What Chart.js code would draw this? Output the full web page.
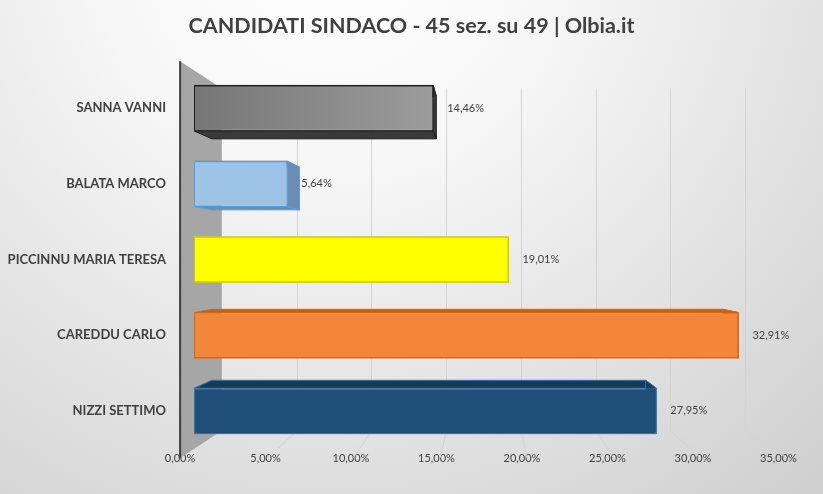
<!DOCTYPE html>
<html>
<head>
<meta charset="utf-8">
<title>Candidati sindaco - Olbia</title>
<script src="https://cdn.jsdelivr.net/npm/chart.js@4.4.1/dist/chart.umd.min.js"></script>
<style>
  html, body { margin: 0; padding: 0; background: #fff; }
</style>
</head>
<body>
<canvas id="votesChart" width="823" height="494"></canvas>
<script>
// values
const candidates = ['SANNA VANNI', 'BALATA MARCO', 'PICCINNU MARIA TERESA', 'CAREDDU CARLO', 'NIZZI SETTIMO'];
const votePercent = [14.46, 5.64, 19.01, 32.91, 27.95];
const tickValues = [0, 5, 10, 15, 20, 25, 30, 35];
const tickLabels = ['0,00%', '5,00%', '10,00%', '15,00%', '20,00%', '25,00%', '30,00%', '35,00%'];

// bar colours: front face, outline, depth faces
const faceColors = ['#8a8a8a', '#9dc3e6', '#ffff00', '#f38638', '#1f4e79'];
const edgeColors = ['#1c1c1c', '#5b9bd5', '#dcc21c', '#d0681c', '#3d72a8'];
const depthColors = ['#3a3a3a', '#6b8db1', '#c9c900', '#c0601b', '#15395a'];

const textColor = '#404040';
const fontFamily = 'Lato, "Open Sans", sans-serif';

// depth scale factors of the fake 3D box (1 = plane of the bar fronts)
const NEAR = 1.048, FAR = 0.904, BAR_BACK = 0.938;

function formatPercent(v) {
    return v.toFixed(2).replace('.', ',') + '%';
}

// Draws background, side wall, back grid and the depth faces of the bars
const perspective = {
    id: 'perspective',
    beforeDraw(chart) {
        const { ctx, width, height } = chart;
        const g = ctx.createRadialGradient(330, -60, 0, 330, -60, 900);
        g.addColorStop(0, '#ffffff');
        g.addColorStop(0.25, '#f7f7f7');
        g.addColorStop(1, '#c2c2c2');
        ctx.save();
        ctx.fillStyle = g;
        ctx.fillRect(0, 0, width, height);
        ctx.restore();
    },
    beforeDatasetsDraw(chart) {
        const { ctx, chartArea: a } = chart;
        const xs = chart.scales.x;
        const vx = (a.left + a.right) / 2;
        const vy = (a.top + a.bottom) / 2;
        const pt = (x, y, s) => [vx + s * (x - vx), vy + s * (y - vy)];

        ctx.save();

        // grid lines on back wall and floor
        ctx.strokeStyle = '#d4d4d4';
        ctx.lineWidth = 1;
        tickValues.forEach(v => {
            if (v === 0) return;
            const px = xs.getPixelForValue(v);
            const top = pt(px, a.top, FAR);
            const bot = pt(px, a.bottom, FAR);
            const front = pt(px, a.bottom, NEAR);
            const gx = Math.round(top[0]) + 0.5;
            ctx.beginPath();
            ctx.moveTo(gx, top[1]);
            ctx.lineTo(gx, bot[1]);
            ctx.lineTo(front[0], front[1]);
            ctx.stroke();
        });

        // left side wall
        const x0 = xs.getPixelForValue(0);
        const ft = pt(x0, a.top, NEAR), bt = pt(x0, a.top, FAR);
        const bb = pt(x0, a.bottom, FAR), fb = pt(x0, a.bottom, NEAR);
        ctx.fillStyle = '#a6a6a6';
        ctx.beginPath();
        ctx.moveTo(ft[0], ft[1]);
        ctx.lineTo(bt[0], bt[1]);
        ctx.lineTo(bb[0], bb[1]);
        ctx.lineTo(fb[0], fb[1]);
        ctx.closePath();
        ctx.fill();
        ctx.strokeStyle = '#3f3f3f';
        ctx.lineWidth = 2;
        ctx.beginPath();
        ctx.moveTo(ft[0], ft[1]);
        ctx.lineTo(fb[0], fb[1]);
        ctx.stroke();

        // depth faces of the bars (front faces are drawn by Chart.js on top)
        const meta = chart.getDatasetMeta(0);
        meta.data.forEach((bar, i) => {
            const { x, y, base, height } = bar.getProps(['x', 'y', 'base', 'height'], true);
            const t = y - height / 2, b = y + height / 2;
            const f = [[base, t], [x, t], [x, b], [base, b]];
            const k = f.map(p => pt(p[0], p[1], BAR_BACK));
            const faces = [
                [f[0], f[1], k[1], k[0]],
                [f[3], f[2], k[2], k[3]],
                [f[1], f[2], k[2], k[1]]
            ];
            ctx.fillStyle = depthColors[i];
            ctx.strokeStyle = edgeColors[i];
            ctx.lineWidth = 1;
            faces.forEach(face => {
                ctx.beginPath();
                ctx.moveTo(face[0][0], face[0][1]);
                face.slice(1).forEach(p => ctx.lineTo(p[0], p[1]));
                ctx.closePath();
                ctx.fill();
                ctx.stroke();
            });
        });

        ctx.restore();
    },
    afterDatasetsDraw(chart) {
        const { ctx } = chart;
        const meta = chart.getDatasetMeta(0);
        ctx.save();
        ctx.fillStyle = textColor;
        ctx.font = '11px ' + fontFamily;
        ctx.textBaseline = 'middle';
        ctx.textAlign = 'left';
        meta.data.forEach((bar, i) => {
            ctx.fillText(formatPercent(votePercent[i]), bar.x + 14, bar.y);
        });
        ctx.restore();
    }
};

new Chart(document.getElementById('votesChart'), {
    type: 'bar',
    data: {
        labels: candidates,
        datasets: [{
            data: votePercent,
            backgroundColor: c => {
                const area = c.chart.chartArea;
                if (c.dataIndex !== 0 || !area) return faceColors[c.dataIndex];
                const end = c.chart.scales.x.getPixelForValue(votePercent[0]);
                const g = c.chart.ctx.createLinearGradient(area.left, 0, end, 0);
                g.addColorStop(0, '#767676');
                g.addColorStop(1, '#9c9c9c');
                return g;
            },
            borderColor: edgeColors,
            borderWidth: 1,
            borderSkipped: false,
            categoryPercentage: 1,
            barPercentage: 0.6,
            xAxisID: 'x',
            yAxisID: 'y'
        }]
    },
    options: {
        indexAxis: 'y',
        responsive: false,
        animation: false,
        layout: { padding: { left: 0, right: 0, top: 0, bottom: 26 } },
        plugins: {
            legend: { display: false },
            tooltip: { enabled: false },
            title: {
                display: true,
                text: 'CANDIDATI SINDACO - 45 sez. su 49 | Olbia.it',
                color: textColor,
                font: { family: fontFamily, size: 21.5, weight: 'bold' },
                padding: { top: 13, bottom: 31.5 }
            }
        },
        scales: {
            x: { type: 'linear', min: 0, max: 35, display: false },
            // tick labels sit on the front edge of the floor, which is wider than the bar plane
            xFloor: {
                type: 'linear',
                position: 'bottom',
                min: 0.82,
                max: 34.68,
                afterBuildTicks: s => { s.ticks = tickValues.map(v => ({ value: v })); },
                grid: { display: false, drawTicks: false },
                border: { display: false },
                ticks: {
                    autoSkip: false,
                    maxRotation: 0,
                    padding: 3,
                    color: textColor,
                    font: { family: fontFamily, size: 11 },
                    callback: (v, i) => tickLabels[i]
                }
            },
            y: {
                grid: { display: false, drawTicks: false },
                border: { display: false },
                ticks: {
                    padding: 28,
                    color: textColor,
                    font: { family: fontFamily, size: 13, weight: 'bold' }
                },
                afterFit: s => { s.width = 194; }
            },
            // empty axis on the right, only keeps room for the 3D box and last labels
            yEdge: {
                type: 'linear',
                position: 'right',
                grid: { display: false, drawTicks: false },
                border: { display: false },
                ticks: { display: false },
                afterFit: s => { s.width = 50; }
            }
        }
    },
    plugins: [perspective]
});
</script>
</body>
</html>
